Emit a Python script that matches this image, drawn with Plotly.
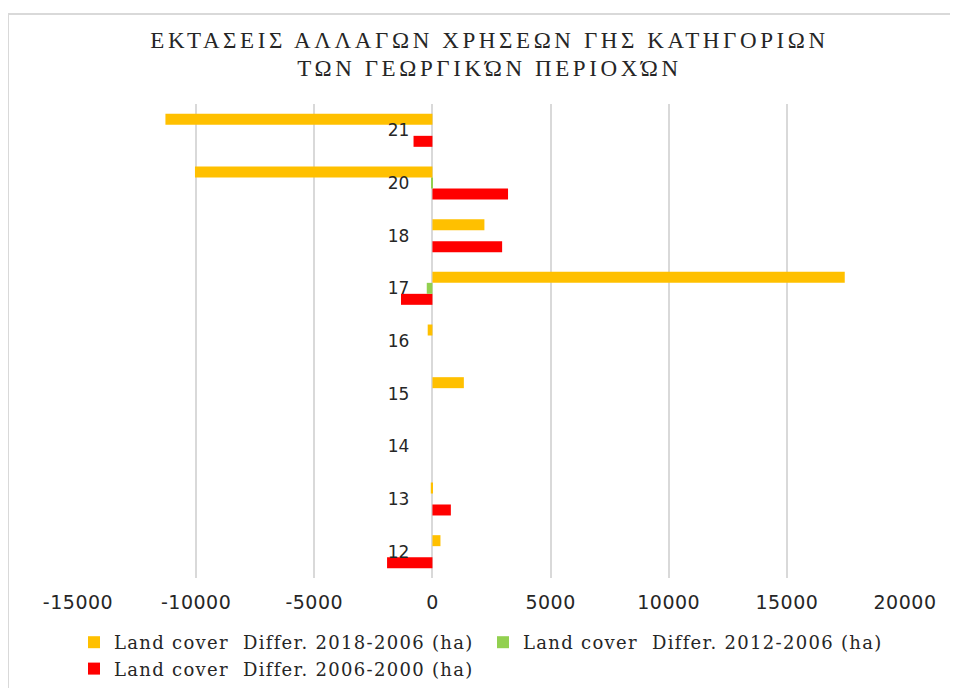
import plotly.graph_objects as go

categories = ["12", "13", "14", "15", "16", "17", "18", "20", "21"]
diff_2018_2006 = [340, -70, 0, 1330, -200, 17450, 2200, -10050, -11300]
diff_2012_2006 = [0, 0, 0, 0, 0, -240, 0, -60, 0]
diff_2006_2000 = [-1920, 780, 0, 0, 0, -1330, 2950, 3200, -800]

series_names = [
    "Land cover\u00a0 Differ. 2018-2006 (ha)",
    "Land cover\u00a0 Differ. 2012-2006 (ha)",
    "Land cover\u00a0 Differ. 2006-2000 (ha)",
]
series_colors = ["#FFC000", "#92D050", "#FF0000"]

x_tickvals = [-15000, -10000, -5000, 0, 5000, 10000, 15000, 20000]
x_ticktext = ["-15000", "-10000", "-5000", "0", "5000", "10000", "15000", "20000"]

title_lines = ["ΕΚΤΑΣΕΙΣ ΑΛΛΑΓΩΝ ΧΡΗΣΕΩΝ ΓΗΣ ΚΑΤΗΓΟΡΙΩΝ", "ΤΩΝ ΓΕΩΡΓΙΚΏΝ ΠΕΡΙΟΧΏΝ"]


def spaced(text, size=None, ls=0.0):
    style = []
    if size:
        style.append(f"font-size:{size}px")
    if ls:
        style.append(f"letter-spacing:{ls}px")
    return f"<span style='{';'.join(style)}'>{text}</span>"


title_text = "<br>".join(spaced(t, 23, 3.6) for t in title_lines)

fig = go.Figure()
# Plotly stacks horizontal groups bottom-up, so add in reverse to keep 2018-2006 on top
for vals, name, col in reversed(list(zip([diff_2018_2006, diff_2012_2006, diff_2006_2000],
                                          series_names, series_colors))):
    fig.add_trace(go.Bar(
        y=categories, x=vals, name=spaced(name, None, 1.3), orientation="h",
        marker=dict(color=col, line=dict(width=0)),
    ))

# page body adds an 8px offset; positions below are given in screen pixels
OFF = 8
W, H = 958, 760
ml, mr, mt = 78 - OFF, W + OFF - 905, 104 - OFF
mb = H + OFF - 578
pw, ph = W - ml - mr, H - mt - mb


def px_x(x):
    return (x - OFF - ml) / pw


def px_y(y):
    return (H - mb - (y - OFF)) / ph


fig.update_layout(
    template="none",
    width=W, height=H,
    margin=dict(l=ml, r=mr, t=mt, b=mb, pad=0),
    paper_bgcolor="white", plot_bgcolor="white",
    barmode="group", bargap=0.374, bargroupgap=0,
    title=dict(text=title_text, x=(489.5 - OFF) / W, xref="container", xanchor="center",
               y=1 - 39.5 / H, yref="container", yanchor="top",
               font=dict(family="Liberation Serif", size=22, color="#262626")),
    xaxis=dict(range=[-15000, 20000], tickvals=x_tickvals,
               ticktext=[spaced(t, None, 0.5) for t in x_ticktext],
               showgrid=True, gridcolor="#D9D9D9", gridwidth=2,
               zeroline=True, zerolinecolor="#D9D9D9", zerolinewidth=2,
               showline=False, ticks="", ticklabelstandoff=11,
               tickfont=dict(family="DejaVu Sans", size=19, color="#262626"),
               automargin=False),
    yaxis=dict(type="category", categoryorder="array", categoryarray=categories,
               range=[-0.5, len(categories) - 0.5],
               anchor="free", position=15000 / 35000, side="left",
               showgrid=False, zeroline=False, showline=False, ticks="",
               ticklabelstandoff=23,
               tickfont=dict(family="DejaVu Sans", size=17, color="#262626"),
               automargin=False),
    legend=dict(orientation="h", traceorder="reversed",
                xref="container", x=66 / W, xanchor="left",
                yref="container", y=1 - (624 - OFF) / H, yanchor="top",
                entrywidth=364, entrywidthmode="pixels",
                font=dict(family="DejaVu Serif", size=18, color="#262626"),
                bgcolor="rgba(0,0,0,0)"),
    showlegend=True,
)

fig.add_shape(type="rect", xref="paper", yref="paper",
              x0=px_x(8), x1=px_x(990), y0=px_y(740), y1=px_y(14),
              line=dict(color="#D9D9D9", width=2), fillcolor="rgba(0,0,0,0)",
              layer="below")

fig.write_html("out.html")
